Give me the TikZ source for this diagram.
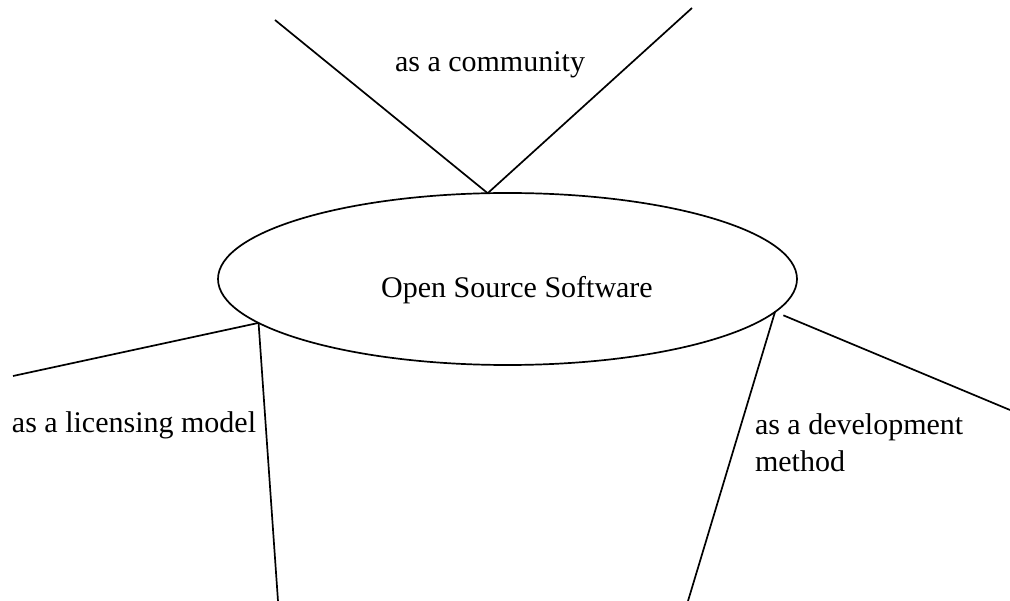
\documentclass[tikz,border=0pt]{standalone}
\usepackage{fontspec}
\setmainfont{Liberation Serif}
\usetikzlibrary{shapes.geometric}

\begin{document}
\begin{tikzpicture}[x=1pt, y=-1pt, line width=1.7pt, every node/.style={font=\fontsize{30}{37}\selectfont}]
    \tikzstyle{aspect}=[ %
%     draw, rectangle,
      inner sep=0, outer sep=0,
      align=left
    ]
  \useasboundingbox (0,0) rectangle (1010,601);
    \path (507.5,279) node(oss) [ellipse,draw,outer sep=0,minimum width=579pt,minimum height=172pt] {}
          (517,290) node(osstext) [aspect] {Open Source Software}
          (490,65) node(community) [aspect] {as a community}
          (12,425) node(licensing) [aspect,anchor=west] {as a licensing model}
          (755,443) node(development) [aspect,anchor=west] {as a development\\method};
  % free ends of the lines
  \coordinate (commleft) at (275,20);
  \coordinate (commright) at (692,8);
  \coordinate (licleft) at (13,376);
  \coordinate (licdown) at (278,601);
  \coordinate (devdown) at (688,601);
  \coordinate (devright) at (1010,410);
  \draw (oss.103) -- (commleft);
  \draw (oss.103) -- (commright);
  \draw (oss.190) -- (licleft);
  \draw (oss.190) -- (licdown);
  \draw (oss.353) -- (devdown);
  \draw[shorten <=9pt] (oss.353) -- (devright);
\end{tikzpicture}
\end{document}
